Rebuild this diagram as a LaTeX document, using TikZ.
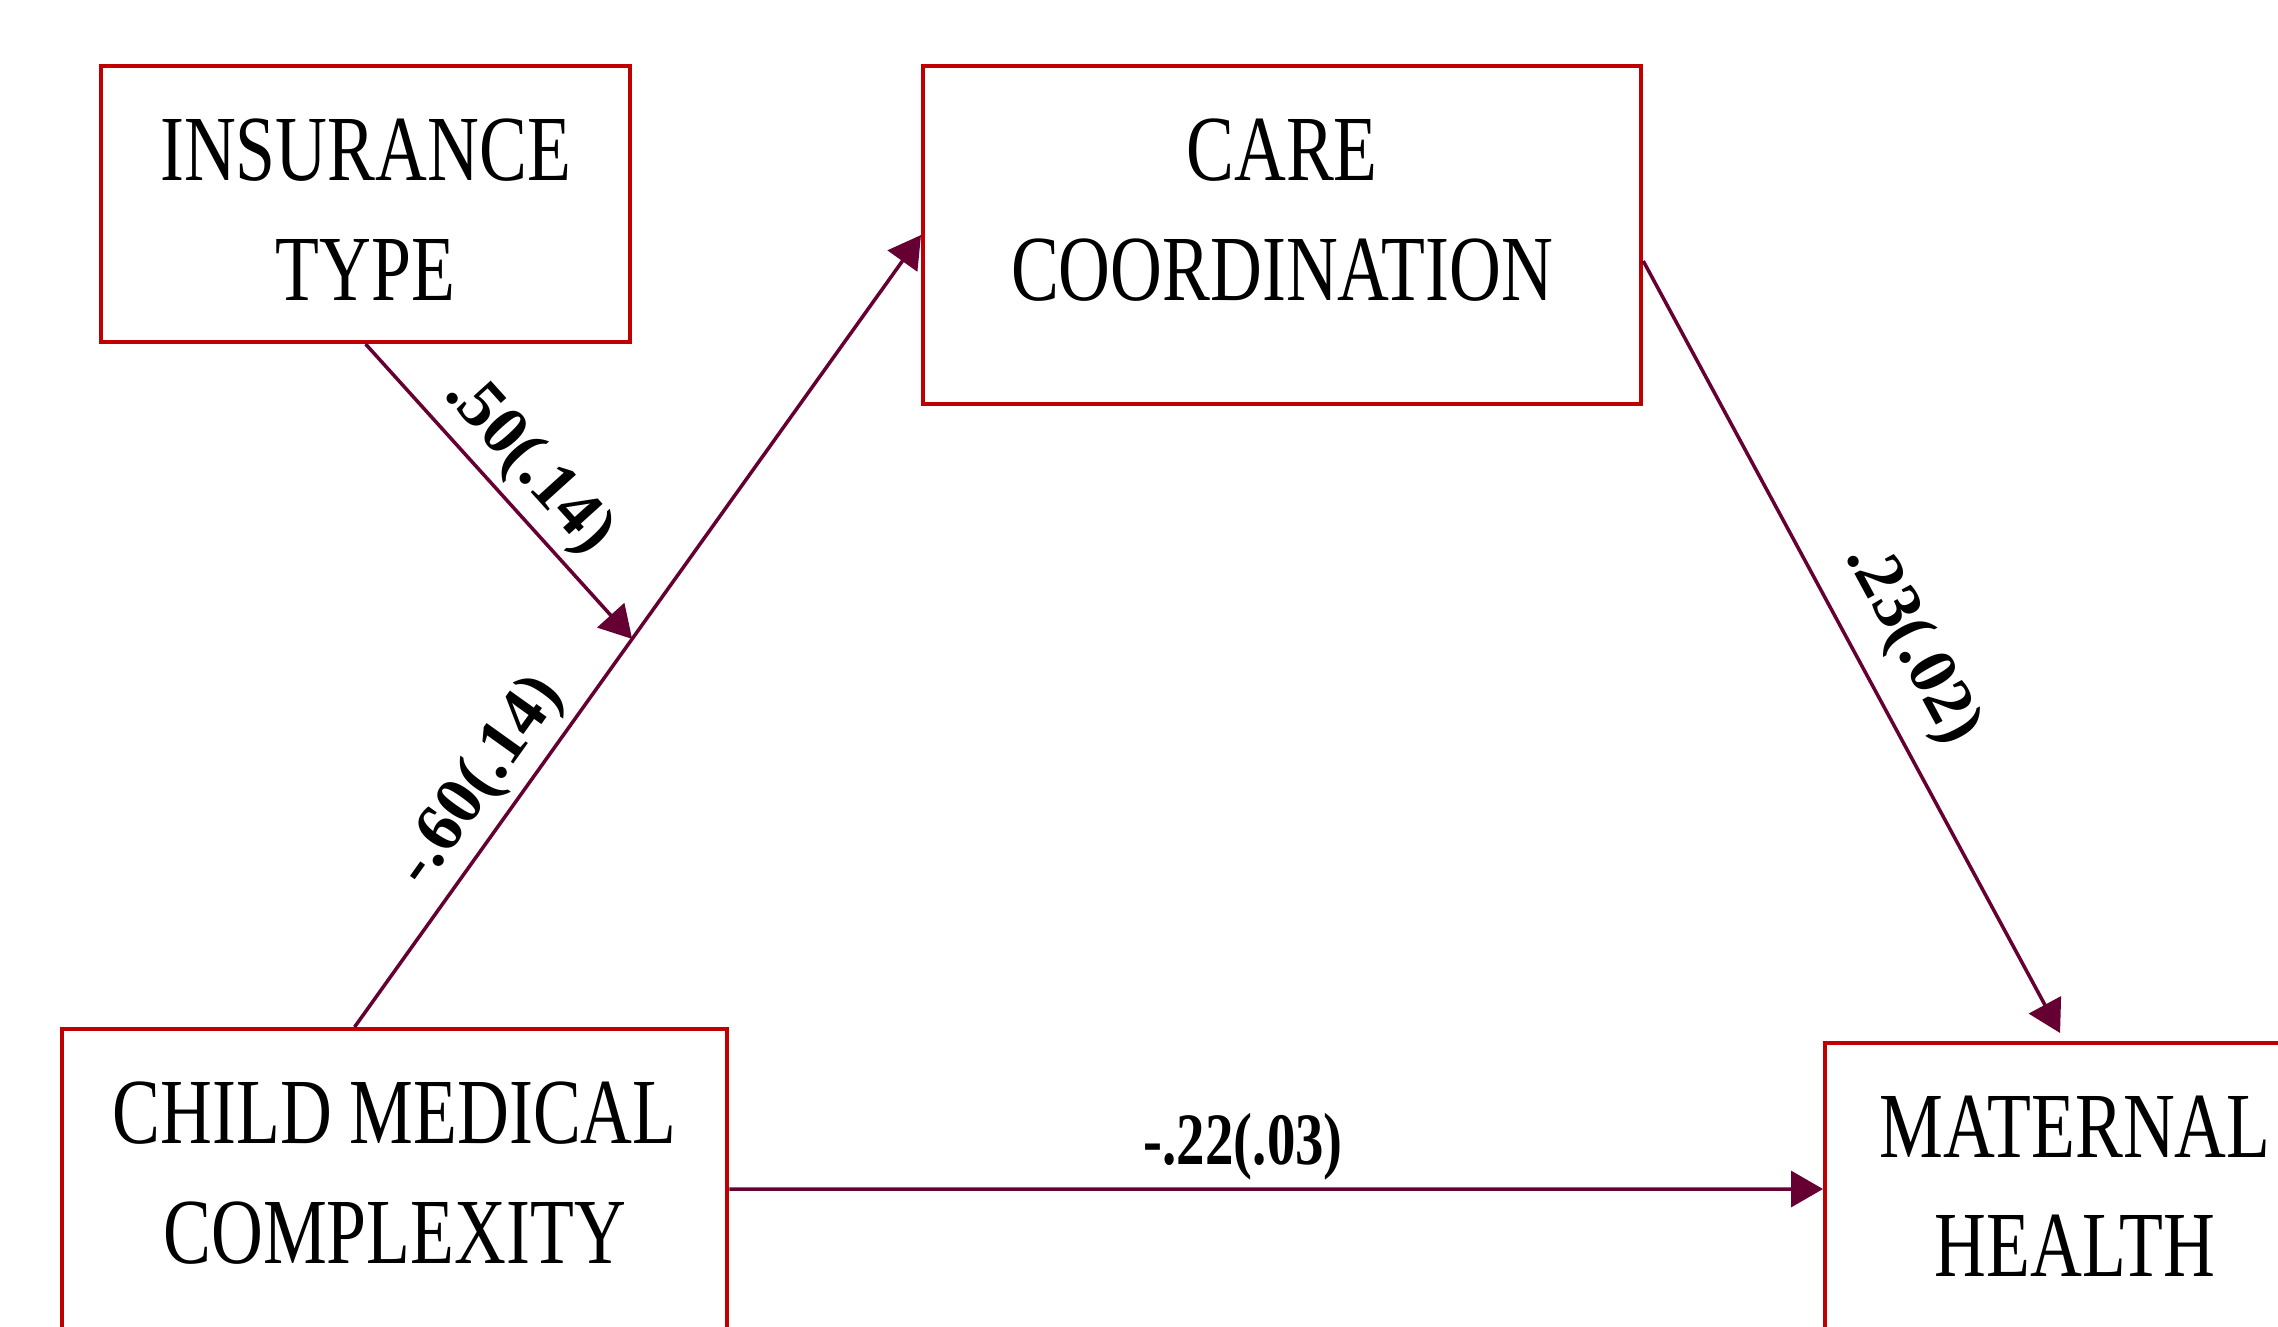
\documentclass[tikz,border=0pt]{standalone}
\usepackage{fontspec}
\setmainfont{Liberation Serif}
\newfontfamily\narrowfont[FakeStretch=0.77]{Liberation Serif}
\usetikzlibrary{arrows.meta}
\definecolor{boxred}{HTML}{C00000}
\definecolor{pathcol}{HTML}{660033}
\newcommand{\bx}{\narrowfont\fontsize{26.5}{34}\selectfont}

\begin{document}
\begin{tikzpicture}[x=0.01cm,y=-0.01cm,
  var/.style={draw=boxred,line width=1.1pt,rectangle,inner sep=0pt,anchor=north west},
  vartext/.style={anchor=north,inner sep=0pt,align=center,font=\bx},
  effect/.style={draw=pathcol,line width=1pt,-{Triangle[length=3.2mm,width=3.6mm]}},
  coef/.style={font=\bfseries\fontsize{19.5}{22}\selectfont,inner sep=2pt}]
  \useasboundingbox (0,0) rectangle (2278,1327);
  \clip (0,0) rectangle (2278,1327);

  \node[var,minimum width=5.29cm,minimum height=2.76cm] (ins) at (99,64) {};
  \node[vartext] (insT) at ([yshift=-0.54cm]ins.north) {INSURANCE\\TYPE};
  \node[var,minimum width=7.18cm,minimum height=3.38cm] (care) at (921,64) {};
  \node[vartext] (careT) at ([yshift=-0.54cm]care.north) {CARE\\COORDINATION};
  \node[var,minimum width=6.65cm,minimum height=3.2cm] (cmc) at (60,1027) {};
  \node[vartext] (cmcT) at ([yshift=-0.54cm]cmc.north) {CHILD MEDICAL\\COMPLEXITY};
  \node[var,minimum width=5.0cm,minimum height=2.92cm] (mat) at (1823,1041) {};
  \node[vartext] (matT) at ([yshift=-0.54cm]mat.north) {MATERNAL\\HEALTH};

  \draw[effect] ([xshift=-0.4cm]cmc.north) -- node[coef,sloped,above,pos=0.28] {-.60(.14)}
    coordinate[pos=0.49] (mod) (care.west);
  \draw[effect] (ins.south) -- node[coef,sloped,above,pos=0.5] {.50(.14)} (mod);
  \draw[effect] ([yshift=-0.26cm]care.east) -- node[coef,sloped,above=4pt,pos=0.53] {.23(.02)}
    ([xshift=-0.15cm,yshift=0.08cm]mat.north);
  \draw[effect] (cmc.east) -- node[coef,above,pos=0.47,font=\narrowfont\bfseries\fontsize{21}{24}\selectfont] {-.22(.03)} (mat.west);
\end{tikzpicture}
\end{document}
